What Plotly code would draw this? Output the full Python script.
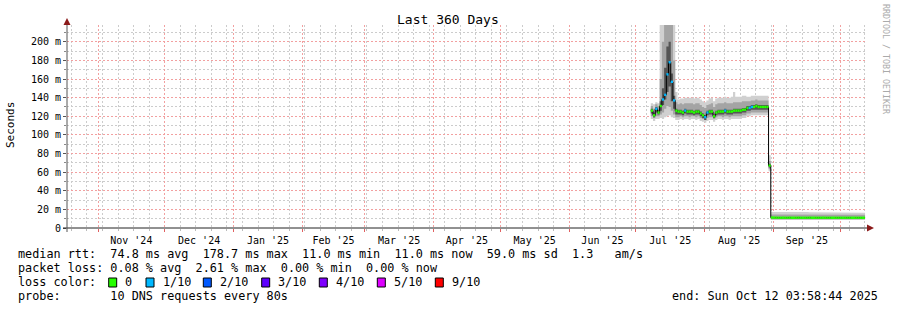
import plotly.graph_objects as go
import pandas as pd

# ---------------- data ----------------
first_sample = "2025-07-07 18:00"
end_time = "2025-10-12 03:58:44"

median_ms = [
    126, 121, 128, 124, 131, 138, 143, 165, 178, 157, 137, 126,
    125, 125, 124, 126, 125, 125, 125, 124, 125, 125, 123, 121, 119,
    124, 125, 125, 120, 124, 125, 125, 125, 126, 125, 125, 125, 126, 126, 126, 126, 127, 127,
    129, 129, 130, 130, 131, 130, 130, 130, 130, 130,
    67, 11.2, 11.1,
    11.1, 11.0, 11.0, 11.1, 11.0, 11.0, 11.1, 11.0, 11.0, 11.0,
    11.1, 11.0, 11.0, 11.0, 11.0, 11.1, 11.0, 11.0, 11.0, 11.0,
    11.0, 11.1, 11.0, 11.0, 11.0, 11.0, 11.0, 11.0, 11.0, 11.0,
    11.0, 11.0, 11.0, 11.0, 11.0, 11.0, 11.0, 11.0, 11.0, 11.0, 11.0,
]

loss_tenths = [
    0, 0, 1, 0, 0, 1, 1, 1, 1, 1, 1, 0,
    0, 0, 0, 1, 0, 0, 0, 0, 0, 0, 0, 0, 1,
    1, 0, 0, 0, 0, 0, 0, 0, 1, 0, 0, 0, 0, 0, 0, 0, 0, 0,
    0, 1, 1, 0, 0, 0, 0, 0, 0, 0,
    0, 0, 0,
    0, 0, 0, 0, 0, 0, 0, 0, 0, 0,
    0, 0, 0, 0, 0, 0, 0, 0, 0, 0,
    0, 0, 0, 0, 0, 0, 0, 0, 0, 0,
    0, 0, 0, 0, 0, 0, 0, 0, 0, 0, 0,
]

smoke_min = [
    117, 115, 117, 117, 118, 117, 119, 120, 121, 119, 118, 116,
    116, 117, 116, 117, 117, 116, 117, 117, 116, 117, 115, 114, 113,
    115, 116, 116, 114, 116, 117, 117, 116, 117, 117, 116, 117, 117, 117, 117, 117, 118, 118,
    120, 120, 121, 121, 121, 121, 121, 121, 121, 121,
    61, 8.5, 8.5,
    8.5, 8.4, 8.5, 8.5, 8.4, 8.5, 8.5, 8.5, 8.4, 8.5,
    8.5, 8.5, 8.4, 8.5, 8.5, 8.5, 8.5, 8.4, 8.5, 8.5,
    8.5, 8.5, 8.5, 8.4, 8.5, 8.5, 8.5, 8.5, 8.5, 8.5,
    8.5, 8.5, 8.5, 8.5, 8.5, 8.5, 8.5, 8.5, 8.5, 8.5, 8.5,
]

smoke_p20 = [
    120, 118, 120, 120, 122, 124, 128, 131, 130, 126, 122, 119,
    119, 120, 119, 120, 120, 119, 120, 120, 119, 120, 118, 117, 116,
    118, 119, 119, 117, 119, 120, 120, 119, 120, 120, 119, 120, 120, 120, 120, 120, 121, 121,
    123, 123, 124, 124, 124, 124, 124, 124, 124, 124,
    63, 9.4, 9.4,
    9.4, 9.4, 9.4, 9.4, 9.4, 9.4, 9.4, 9.4, 9.4, 9.4,
    9.4, 9.4, 9.4, 9.4, 9.4, 9.4, 9.4, 9.4, 9.4, 9.4,
    9.4, 9.4, 9.4, 9.4, 9.4, 9.4, 9.4, 9.4, 9.4, 9.4,
    9.4, 9.4, 9.4, 9.4, 9.4, 9.4, 9.4, 9.4, 9.4, 9.4, 9.4,
]

smoke_p40 = [
    123, 119, 124, 122, 126, 132, 138, 146, 152, 136, 128, 122,
    122, 122, 121, 123, 122, 122, 122, 121, 122, 122, 120, 118, 116,
    121, 122, 122, 118, 121, 122, 122, 122, 123, 122, 122, 122, 123, 123, 123, 123, 124, 124,
    126, 126, 127, 127, 127, 127, 127, 127, 127, 127,
    65, 10.4, 10.4,
    10.4, 10.4, 10.4, 10.4, 10.4, 10.4, 10.4, 10.4, 10.4, 10.4,
    10.4, 10.4, 10.4, 10.4, 10.4, 10.4, 10.4, 10.4, 10.4, 10.4,
    10.4, 10.4, 10.4, 10.4, 10.4, 10.4, 10.4, 10.4, 10.4, 10.4,
    10.4, 10.4, 10.4, 10.4, 10.4, 10.4, 10.4, 10.4, 10.4, 10.4, 10.4,
]

smoke_p60 = [
    128, 124, 130, 127, 136, 150, 172, 195, 200, 166, 142, 128,
    127, 127, 126, 128, 127, 127, 127, 126, 127, 127, 125, 123, 121,
    126, 127, 127, 122, 126, 127, 127, 127, 128, 127, 127, 127, 128, 128, 128, 128, 129, 129,
    131, 131, 132, 132, 133, 132, 132, 132, 132, 132,
    69, 11.8, 11.8,
    11.8, 11.7, 11.7, 11.8, 11.7, 11.7, 11.8, 11.7, 11.7, 11.7,
    11.7, 11.7, 11.7, 11.7, 11.7, 11.7, 11.7, 11.7, 11.7, 11.7,
    11.7, 11.7, 11.7, 11.7, 11.7, 11.7, 11.7, 11.7, 11.7, 11.7,
    11.7, 11.7, 11.7, 11.7, 11.7, 11.7, 11.7, 11.7, 11.7, 11.7, 11.7,
]

smoke_p80 = [
    131, 128, 133, 131, 160, 200, 235, 260, 250, 230, 180, 135,
    133, 134, 133, 134, 134, 134, 134, 133, 134, 134, 132, 130, 129,
    132, 133, 134, 130, 133, 134, 134, 134, 135, 134, 134, 134, 135, 135, 135, 135, 136, 136,
    136, 136, 137, 137, 138, 137, 137, 137, 137, 137,
    72, 14.4, 14.4,
    14.4, 14.4, 14.4, 14.4, 14.4, 14.4, 14.4, 14.4, 14.4, 14.4,
    14.4, 14.4, 14.4, 14.4, 14.4, 14.2, 14.2, 14.2, 14.2, 14.2,
    14.2, 14.2, 14.2, 14.2, 14.2, 14.2, 14.2, 14.2, 14.2, 14.2,
    14.2, 14.2, 14.2, 14.2, 14.2, 14.2, 14.2, 14.2, 14.2, 14.2, 14.2,
]

smoke_max = [
    134, 133, 135, 134, 240, 260, 260, 260, 260, 260, 240, 146,
    138, 139, 139, 140, 140, 140, 140, 139, 140, 140, 138, 136, 135,
    137, 139, 140, 136, 139, 140, 140, 140, 141, 140, 140, 141, 146, 141, 141, 141, 142, 142,
    141, 141, 142, 142, 142, 142, 142, 142, 142, 142,
    78, 17.2, 17.2,
    17.5, 17.8, 17.2, 17.2, 17.5, 17.8, 17.2, 17.2, 17.2, 17.8,
    17.2, 17.2, 17.2, 17.5, 17.2, 16.8, 16.8, 16.5, 16.5, 16.5,
    16.5, 16.5, 16.5, 16.5, 16.5, 16.3, 16.3, 16.3, 16.3, 16.3,
    16.3, 16.3, 16.3, 16.3, 16.3, 16.3, 16.3, 16.3, 16.3, 16.3, 16.3,
]

y_tick_values = [0, 20, 40, 60, 80, 100, 120, 140, 160, 180, 200]
y_tick_labels = ["0", "20 m", "40 m", "60 m", "80 m", "100 m", "120 m",
                 "140 m", "160 m", "180 m", "200 m"]

loss_colors = {0: "#26ff00", 1: "#00b8ff", 2: "#0059ff", 3: "#5e00ff",
               4: "#7e00ff", 5: "#dd00ff", 9: "#ff0000"}
loss_labels = ["0", "1/10", "2/10", "3/10", "4/10", "5/10", "9/10"]
loss_keys = [0, 1, 2, 3, 4, 5, 9]

stats_rtt = "median rtt:  74.8 ms avg  178.7 ms max  11.0 ms min  11.0 ms now  59.0 ms sd  1.3   am/s"
stats_loss = "packet loss: 0.08 % avg  2.61 % max  0.00 % min  0.00 % now"
probe_text = "probe:       10 DNS requests every 80s"
end_text = "end: Sun Oct 12 03:58:44 2025"

# ---------------- geometry ----------------
W, H = 897, 310
PL, PR, PT, PB = 67, 867, 25, 228   # plot area in pixels
PW, PH = PR - PL, PB - PT
Y_MAX = 218
X_START = "2024-10-18 01:10"
X_END = "2025-10-13 01:10"

def px(x):
    return (x - PL) / PW

def py(y):
    return (PB - y) / PH

MONO = "DejaVu Sans Mono"

n = len(median_ms)
dates = list(pd.date_range(first_sample, periods=n, freq="D"))
edges = dates + [pd.Timestamp(end_time)]

fig = go.Figure()

def band(lo, hi, color):
    xs, ys = [], []
    for i in range(n):
        xs += [edges[i], edges[i + 1]]
        ys += [hi[i], hi[i]]
    for i in reversed(range(n)):
        xs += [edges[i + 1], edges[i]]
        ys += [lo[i], lo[i]]
    fig.add_trace(go.Scatter(x=xs, y=ys, fill="toself", fillcolor=color,
                             mode="lines", line=dict(width=0, color=color),
                             hoverinfo="skip", showlegend=False))

band(smoke_min, smoke_max, "#d0d0d0")
band(smoke_p20, smoke_p80, "#a4a4a4")
band(smoke_p40, smoke_p60, "#555555")

# black median connector
fig.add_trace(go.Scatter(x=edges, y=median_ms + [median_ms[-1]], mode="lines",
                         line=dict(color="#000000", width=1, shape="hv"),
                         hoverinfo="skip", showlegend=False))

# coloured median by loss
for key in loss_keys:
    xs, ys = [], []
    for i in range(n):
        if loss_tenths[i] == key:
            xs += [edges[i], edges[i + 1], None]
            ys += [median_ms[i], median_ms[i], None]
    if xs:
        fig.add_trace(go.Scatter(x=xs, y=ys, mode="lines",
                                 line=dict(color=loss_colors[key], width=2.4),
                                 hoverinfo="skip", showlegend=False))

shapes = []
# axes lines
shapes.append(dict(type="line", xref="paper", yref="paper",
                   x0=px(63), x1=px(868), y0=py(228), y1=py(228),
                   line=dict(color="#222222", width=1)))
shapes.append(dict(type="line", xref="paper", yref="paper",
                   x0=px(67), x1=px(67), y0=py(232), y1=py(24),
                   line=dict(color="#555555", width=1)))
# arrows
shapes.append(dict(type="path", xref="paper", yref="paper",
                   path=f"M {px(867)} {py(224.5)} L {px(874)} {py(228)} L {px(867)} {py(231.5)} Z",
                   fillcolor="#8b1a1a", line=dict(width=0)))
shapes.append(dict(type="path", xref="paper", yref="paper",
                   path=f"M {px(63.5)} {py(25)} L {px(67)} {py(18)} L {px(70.5)} {py(25)} Z",
                   fillcolor="#8b1a1a", line=dict(width=0)))

# legend squares
square_x = [108.7, 146, 203.3, 261.7, 319.3, 377.3, 435.3]
label_x = [123, 160.7, 218.3, 276, 334, 391.7, 450]
for sx, key in zip(square_x, loss_keys):
    shapes.append(dict(type="rect", xref="paper", yref="paper",
                       x0=px(sx), x1=px(sx + 8), y0=py(287), y1=py(278),
                       fillcolor=loss_colors[key], line=dict(color="#000000", width=1)))

ann = []
def text(x, y, s, size=11.8, anchor="left", color="#000000", angle=0, yanchor="middle"):
    ann.append(dict(x=px(x), y=py(y), xref="paper", yref="paper", text=s,
                    showarrow=False, xanchor=anchor, yanchor=yanchor, textangle=angle,
                    font=dict(family=MONO, size=size, color=color)))

text(448, 19, "Last 360 Days", size=13, anchor="center")
text(11, 125, "Seconds", size=11, anchor="center", angle=-90)
text(886, 59, "RRDTOOL / TOBI OETIKER", size=8.3, anchor="center", angle=90, color="#aaaaaa")
text(16, 254, stats_rtt.replace(" ", "&nbsp;"))
text(16, 268, stats_loss.replace(" ", "&nbsp;"))
text(16, 282, "loss&nbsp;color:")
for lx, lab in zip(label_x, loss_labels):
    text(lx, 282, lab)
text(16, 296, probe_text.replace(" ", "&nbsp;"))
text(880, 296, end_text.replace(" ", "&nbsp;"), anchor="right")

fig.update_layout(
    width=W, height=H,
    margin=dict(l=PL, r=W - PR, t=PT, b=H - PB, pad=0),
    paper_bgcolor="#ffffff", plot_bgcolor="#ffffff",
    showlegend=False,
    shapes=shapes, annotations=ann,
    xaxis=dict(
        type="date", range=[X_START, X_END], fixedrange=True,
        showline=False, zeroline=False,
        showgrid=True, gridcolor="#f2a0a0", griddash="2px,2px", gridwidth=1,
        dtick="M1", tick0="2024-11-01", tickformat="%b '%y", ticklabelmode="period",
        ticks="outside", ticklen=3, tickcolor="#e06060",
        tickfont=dict(family=MONO, size=10, color="#000000"),
        minor=dict(dtick=7 * 86400000, tick0="2024-10-20", showgrid=True,
                   gridcolor="#cccccc", griddash="2px,2px", gridwidth=1,
                   ticks="outside", ticklen=2, tickcolor="#bbbbbb"),
    ),
    yaxis=dict(
        range=[0, Y_MAX], fixedrange=True, showline=False, zeroline=False,
        tickmode="array", tickvals=y_tick_values, ticktext=y_tick_labels,
        showgrid=True, gridcolor="#f2a0a0", griddash="2px,2px", gridwidth=1,
        ticks="outside", ticklen=3, tickcolor="#555555",
        tickfont=dict(family=MONO, size=10, color="#000000"),
        minor=dict(dtick=10, tick0=0, showgrid=True, gridcolor="#cccccc",
                   griddash="2px,2px", gridwidth=1,
                   ticks="outside", ticklen=2, tickcolor="#888888"),
    ),
)

fig.write_html("out.html")
